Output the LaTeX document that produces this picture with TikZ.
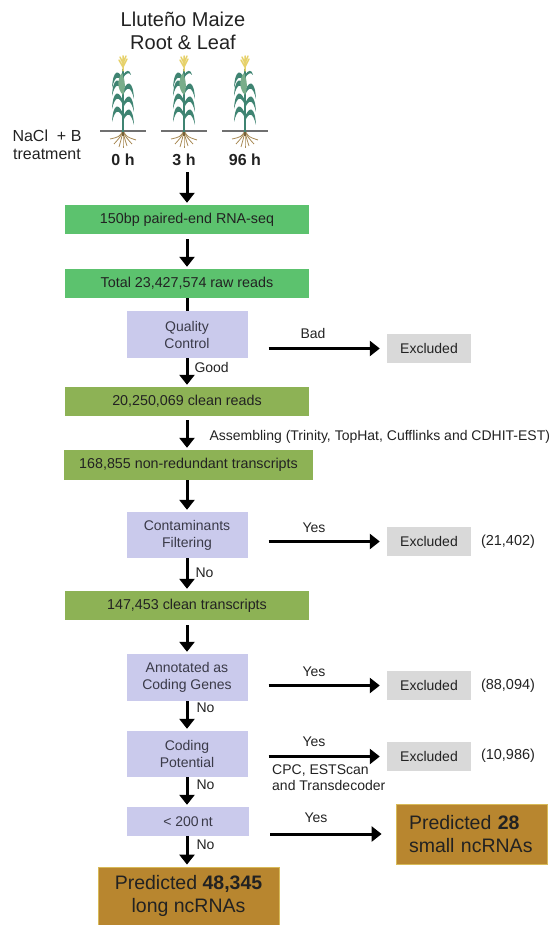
\documentclass[tikz,border=0pt]{standalone}
\usepackage{fontspec}
\setmainfont{Liberation Sans}
\usetikzlibrary{arrows.meta,positioning}
\definecolor{PLGreen}{HTML}{5CC26E}
\definecolor{PLOlive}{HTML}{8DB255}
\definecolor{PLLilac}{HTML}{CACAEC}
\definecolor{PLGray}{HTML}{D9D9D9}
\definecolor{PLBrown}{HTML}{B8862F}
\definecolor{PLInk}{HTML}{222222}
\definecolor{PLSoft}{HTML}{3A3A48}
\definecolor{PLLeaf}{HTML}{3F8472}
\definecolor{PLLeafUp}{HTML}{79AD8A}
\definecolor{PLTassel}{HTML}{E6D16A}
\definecolor{PLRoot}{HTML}{A88A55}
\definecolor{PLSoil}{HTML}{707070}
\tikzset{
  flow/.style={-{Triangle[length=10pt,width=15pt]},line width=3pt,black},
  wire/.style={line width=3pt,black},
  stepbox/.style={fill=PLGreen,text=PLInk,minimum width=244pt,minimum height=29pt,
                  inner sep=0pt,font=\fontsize{14.3}{16}\selectfont},
  stepolive/.style={stepbox,fill=PLOlive},
  check/.style={fill=PLLilac,text=PLSoft,minimum width=121pt,minimum height=47pt,
                inner sep=0pt,align=center,font=\fontsize{14}{17}\selectfont},
  drop/.style={fill=PLGray,text=PLInk,minimum width=84pt,minimum height=29pt,
               inner sep=0pt,font=\fontsize{14}{16}\selectfont},
  result/.style={fill=PLBrown,draw=PLTassel!70!PLBrown,line width=0.8pt,text=PLInk,
                 inner sep=0pt,font=\fontsize{19.5}{23}\selectfont},
  label/.style={text=PLInk,font=\fontsize{14}{16}\selectfont},
  count/.style={text=PLInk,font=\fontsize{14.5}{16}\selectfont},
  hours/.style={text=PLInk,font=\fontsize{16}{18}\selectfont\bfseries},
  rootline/.style={PLRoot,line width=0.8pt},
  maize/.pic={
    % roots, ground, stem
    \foreach \dx/\dy in {-13/8,-9/13,-4/16,0/17,4/15,9/13,13/9}
      \draw[rootline] (0,0) .. controls (\dx*0.3,6) .. (\dx,\dy);
    \draw[PLRoot!70!black,line width=1.6pt] (0,0) -- (0,5);
    \draw[PLSoil,line width=1.6pt] (-23,0) -- (23,0);
    \draw[PLLeaf,line width=2pt] (0,1) -- (0,-62);
    % leaves arching out and drooping
    \foreach \h/\s in {14/1,17/-1,27/1,30/-1,40/1,43/-1,51/-1}
      \fill[PLLeaf] (0,-\h) .. controls (\s*4,-\h-11) and (\s*10,-\h-11) .. (\s*11,-\h+8)
        .. controls (\s*8,-\h-5) and (\s*4,-\h-5) .. (0,-\h+4) -- cycle;
    % light leaf round the ear
    \fill[PLLeafUp] (0,-36) .. controls (-6,-42) and (-6,-52) .. (-1,-58)
      .. controls (2,-52) and (3,-43) .. (0,-36) -- cycle;
    \fill[PLLeaf] (0,-56) .. controls (3,-61) and (7,-62) .. (8,-56)
      .. controls (6,-59) and (3,-58) .. (0,-53) -- cycle;
    % tassel
    \draw[PLTassel,line width=1.5pt,line cap=round] (0,-60) -- (0,-75)
      (0,-64) -- (-4,-71) (0,-64) -- (4,-72) (0,-68) -- (-3,-74) (0,-68) -- (3,-75);
  },
}

\begin{document}
\begin{tikzpicture}[x=1pt,y=-1pt]
  \useasboundingbox (0,0) rectangle (558,925);

  % header: plants at the three sampling times
  \node[text=PLInk,align=center,font=\fontsize{20}{22.5}\selectfont] (title) at (183,31)
    {Lluteño Maize\\Root \& Leaf};
  \pic at (123,131) {maize};
  \pic at (184,131) {maize};
  \pic at (245,131) {maize};
  \node[hours] (t0) at (123,160) {0 h};
  \node[hours] (t3) at (184,160) {3 h};
  \node[hours] (t96) at (245,160) {96 h};
  \node[text=PLInk,align=center,font=\fontsize{16}{18}\selectfont] (salt) at (47,145)
    {NaCl\ \ + B\\treatment};

  % main column
  \node[stepbox] (seq) at (187,219.5) {150bp paired-end RNA-seq};
  \node[stepbox] (raw) at (187,283.5) {Total 23,427,574 raw reads};
  \node[check] (qc) at (187,334.5) {Quality\\Control};
  \node[stepolive] (clean) at (187,401.5) {20,250,069 clean reads};
  \node[stepolive,minimum width=249pt,minimum height=30pt] (nonred) at (188.5,465)
    {168,855 non-redundant transcripts};
  \node[check,minimum height=46pt] (cf) at (187,535) {Contaminants\\Filtering};
  \node[stepolive] (ctr) at (187,605.5) {147,453 clean transcripts};
  \node[check] (acg) at (187,677.5) {Annotated as\\Coding Genes};
  \node[check,minimum height=46pt] (cp) at (187,754) {Coding\\Potential};
  \node[check,minimum width=122pt,minimum height=29pt] (nt) at (188,821.5) {< 200\,nt};
  \node[result,minimum width=181pt,minimum height=58pt,align=center] (long) at (188.5,896)
    {Predicted \textbf{48,345}\\long ncRNAs};

  % side column
  \node[drop] (exq) at (429,348.5) {Excluded};
  \node[drop] (excf) at (429,541.5) {Excluded};
  \node[drop] (exacg) at (429,685.5) {Excluded};
  \node[drop] (excp) at (429,756.5) {Excluded};
  \node[result,minimum width=151pt,minimum height=60pt,align=left,inner xsep=13pt,
        text width=125pt] (small) at (471.5,834)
    {Predicted \textbf{28}\\small ncRNAs};
  \node[count] (ncf) at (508,542) {(21,402)};
  \node[count] (nacg) at (508,686) {(88,094)};
  \node[count] (ncp) at (508,756) {(10,986)};

  % downward flow
  \draw[flow,shorten <=3pt,shorten >=2pt] (seq.north |- t3.south) -- (seq.north);
  \draw[flow,shorten <=5pt,shorten >=2pt] (seq.south) -- (raw.north);
  \draw[wire] (raw.south) -- (qc.north);
  \draw[flow,shorten >=2pt] (qc.south) -- (clean.north);
  \draw[flow,shorten <=4pt,shorten >=2pt] (clean.south) -- (clean.south |- nonred.north);
  \draw[flow,shorten >=2pt] (cf.north |- nonred.south) -- (cf.north);
  \draw[flow,shorten >=2pt] (cf.south) -- (ctr.north);
  \draw[flow,shorten <=5pt,shorten >=2pt] (ctr.south) -- (acg.north);
  \draw[flow,shorten >=2pt] (acg.south) -- (cp.north);
  \draw[flow,shorten >=2pt] (cp.south) -- (cp.south |- nt.north);
  \draw[flow,shorten >=2pt] (cp.south |- nt.south) -- (cp.south |- long.north);

  % branches to the right
  \draw[flow,shorten <=21pt,shorten >=7pt] (qc.east |- exq.west) -- (exq.west);
  \draw[flow,shorten <=21pt,shorten >=7pt] (cf.east |- excf.west) -- (excf.west);
  \draw[flow,shorten <=21pt,shorten >=7pt] (acg.east |- exacg.west) -- (exacg.west);
  \draw[flow,shorten <=21pt,shorten >=7pt] (cp.east |- excp.west) -- (excp.west);
  \draw[flow,shorten <=21pt,shorten >=14pt] (nt.east |- small.west) -- (small.west);

  % edge labels
  \node[label] (bad) at (313,333) {Bad};
  \node[label,anchor=west] (good) at (191,367) {Good};
  \node[label,anchor=west] (asm) at (206,437)
    {Assembling (Trinity, TopHat, Cufflinks and CDHIT-EST)};
  \node[label] (ycf) at (314,528) {Yes};
  \node[label,anchor=west] (ncfl) at (192,573) {No};
  \node[label] (yacg) at (314,672) {Yes};
  \node[label,anchor=west] (nacgl) at (193,708) {No};
  \node[label] (ycp) at (314,742) {Yes};
  \node[label,anchor=north west,align=left,inner sep=0pt] (tools) at (272,765)
    {CPC, ESTScan\\and Transdecoder};
  \node[label,anchor=west] (ncpl) at (193,785) {No};
  \node[label] (ynt) at (316,818) {Yes};
  \node[label,anchor=west] (nntl) at (193,845) {No};
\end{tikzpicture}
\end{document}
